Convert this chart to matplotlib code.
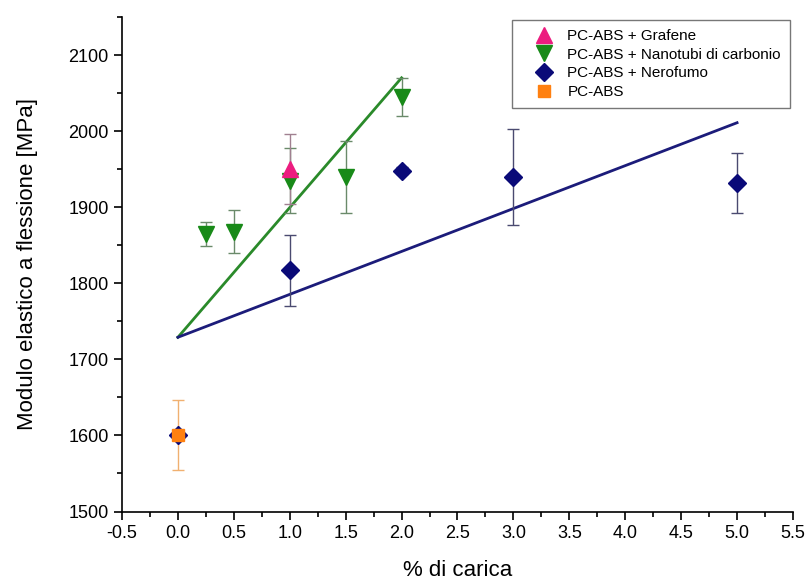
import matplotlib.pyplot as plt
import numpy as np

plt.rcParams['font.family'] = ['Liberation Sans', 'DejaVu Sans']

# Data
graf_x = [1.0]
graf_y = [1950]
graf_err = [46]

cnt_x = [0.25, 0.5, 1.0, 1.5, 2.0]
cnt_y = [1865, 1868, 1935, 1940, 2045]
cnt_err = [16, 28, 43, 47, 25]

cb_x = [0.0, 1.0, 2.0, 3.0, 5.0]
cb_y = [1600, 1817, 1948, 1940, 1932]
cb_err = [4, 47, 5, 63, 39]

pc_x = [0.0]
pc_y = [1600]
pc_err = [46]

# linear trend lines
cnt_fit_x = [0.0, 2.0]
cnt_fit_y = [1729, 2070]
cb_fit_x = [0.0, 5.0]
cb_fit_y = [1729, 2011]

c_graf = '#ec1c7f'
c_cnt = '#188a18'
c_cb = '#0a0a78'
c_pc = '#ff8010'

fig = plt.figure(figsize=(8.09, 5.85), dpi=100)
ax = fig.add_axes([0.1508, 0.1256, 0.8294, 0.8454])

ax.plot(cnt_fit_x, cnt_fit_y, color='#2a8a2a', lw=2, zorder=2)
ax.plot(cb_fit_x, cb_fit_y, color='#1c1c7a', lw=2, zorder=2)

eb = dict(capsize=4, elinewidth=1, capthick=1, ls='none', zorder=3)
ax.errorbar(cb_x, cb_y, yerr=cb_err, fmt='D', ms=9, color=c_cb, ecolor='#4a4a70',
            label='PC-ABS + Nerofumo', **eb)
ax.errorbar(cnt_x, cnt_y, yerr=cnt_err, fmt='v', ms=11, color=c_cnt, ecolor='#6a8a6a',
            label='PC-ABS + Nanotubi di carbonio', **eb)
ax.errorbar(graf_x, graf_y, yerr=graf_err, fmt='^', ms=11, color=c_graf, ecolor='#a08090',
            label='PC-ABS + Grafene', **eb)
ax.errorbar(pc_x, pc_y, yerr=pc_err, fmt='s', ms=8, color=c_pc, ecolor='#f0b070',
            label='PC-ABS', **eb)

ax.set_xlim(-0.5, 5.5)
ax.set_ylim(1500, 2150)
ax.set_xticks(np.arange(-0.5, 5.51, 0.5))
ax.set_xticks(np.arange(-0.5, 5.51, 0.25), minor=True)
ax.set_yticks(np.arange(1500, 2101, 100))
ax.set_yticks(np.arange(1500, 2151, 50), minor=True)
ax.xaxis.set_major_formatter(plt.FormatStrFormatter('%.1f'))

for s in ['top', 'right']:
    ax.spines[s].set_visible(False)
for s in ['left', 'bottom']:
    ax.spines[s].set_linewidth(1.2)
ax.tick_params(which='major', direction='out', length=6, width=1.2, labelsize=13)
ax.tick_params(which='minor', direction='out', length=3.5, width=1.2)

ax.set_xlabel('% di carica', fontsize=16, labelpad=13)
ax.set_ylabel('Modulo elastico a flessione [MPa]', fontsize=16, labelpad=22)

handles, labels = ax.get_legend_handles_labels()
order = [2, 1, 0, 3]
hs = [handles[i][0] for i in order]
ls = [labels[i] for i in order]
leg = ax.legend(hs, ls, loc='upper right', bbox_to_anchor=(1.0, 1.0), fontsize=11,
                frameon=True, fancybox=False, edgecolor='#555555', handlelength=3.0,
                borderpad=0.6, labelspacing=0.3, handletextpad=0.0, borderaxespad=0.2)
leg.get_frame().set_linewidth(1)

plt.savefig('out.png', dpi=100)
